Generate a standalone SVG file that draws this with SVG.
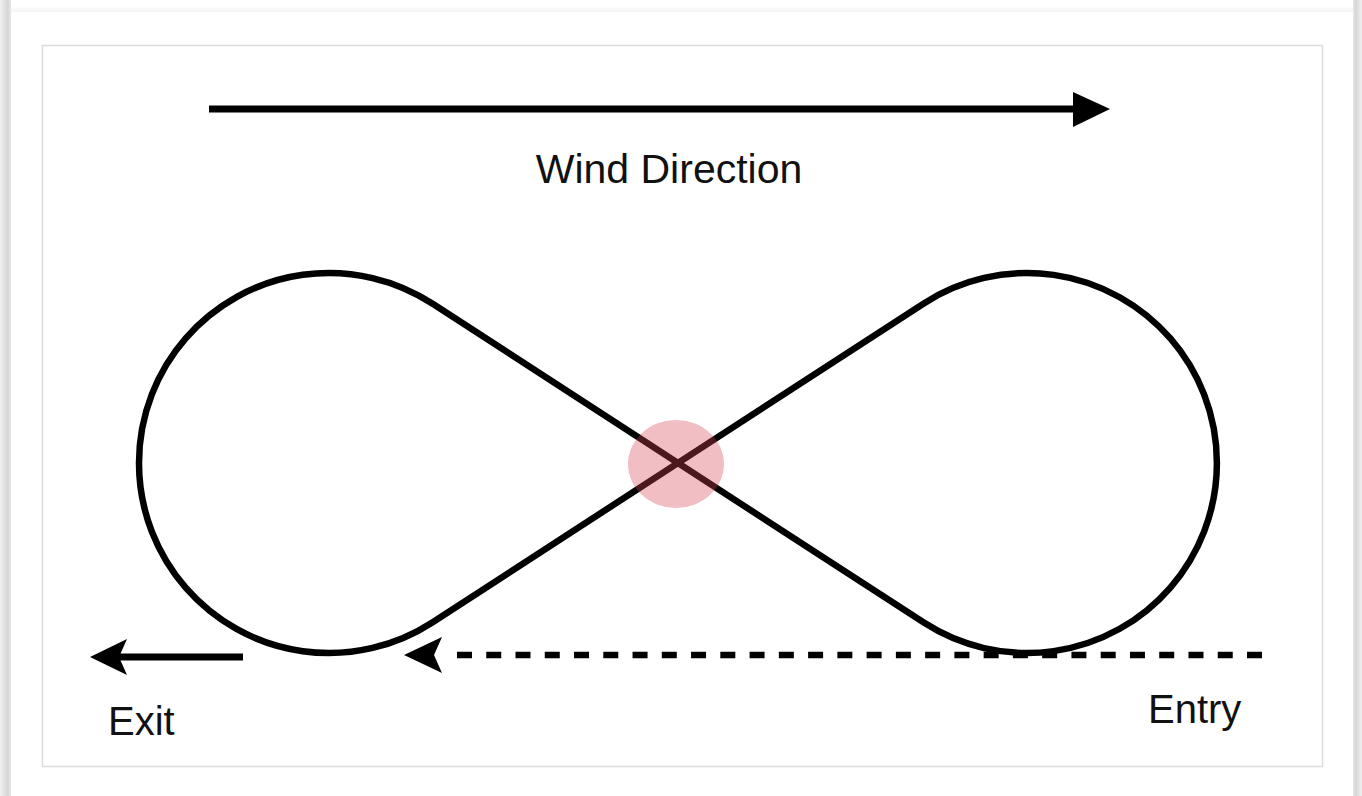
<svg xmlns="http://www.w3.org/2000/svg" width="1362" height="796" viewBox="0 0 1362 796">
  <defs>
    <linearGradient id="shL" x1="0" y1="0" x2="1" y2="0">
      <stop offset="0" stop-color="#f2f2f2"/>
      <stop offset="0.7" stop-color="#d6d6d6"/>
      <stop offset="1" stop-color="#e8e8e8"/>
    </linearGradient>
    <linearGradient id="shR" x1="0" y1="0" x2="1" y2="0">
      <stop offset="0" stop-color="#e8e8e8"/>
      <stop offset="0.3" stop-color="#d6d6d6"/>
      <stop offset="1" stop-color="#f2f2f2"/>
    </linearGradient>
    <linearGradient id="shT" x1="0" y1="0" x2="0" y2="1">
      <stop offset="0" stop-color="#ffffff"/>
      <stop offset="1" stop-color="#f4f4f4"/>
    </linearGradient>
    <style>
      .lbl { font-family: "Liberation Sans", Arial, sans-serif; font-size: 40px; fill: #111; }
      .line { fill: none; stroke: #000; stroke-width: 6.5; }
      .head { fill: #000; stroke: none; }
    </style>
  </defs>

  <rect x="0" y="0" width="1362" height="796" fill="#ffffff"/>
  <!-- card shadow -->
  <rect x="0" y="0" width="11" height="796" fill="url(#shL)"/>
  <rect x="1353" y="0" width="9" height="796" fill="url(#shR)"/>
  <rect x="11" y="6" width="1342" height="6" fill="url(#shT)"/>
  <rect x="11" y="12" width="1342" height="784" fill="#ffffff"/>
  <!-- inner frame -->
  <rect x="42.5" y="45.5" width="1280" height="721" fill="#ffffff" stroke="#dcdcdc" stroke-width="1.5"/>

  <g id="connectors">
    <!-- wind direction arrow -->
    <g id="wind-arrow">
      <line x1="209" y1="109" x2="1076" y2="109" stroke="#000" stroke-width="7"/>
      <polygon class="head" points="1073,92 1110,109 1073,127"/>
    </g>
    <!-- figure-eight path -->
    <path id="figure-eight" class="line" stroke-linejoin="round"
      d="M432.7,303.8 L923.8,622.6 A190,190 0 1 0 923.8,303.4 L432.7,622.2 A190,190 0 1 1 432.7,303.8 Z"/>
    <!-- entry dashed arrow -->
    <g id="entry-arrow">
      <line x1="1262" y1="655" x2="457" y2="655" stroke="#000" stroke-width="6.5" stroke-dasharray="15 14.26"/>
      <polygon class="head" points="404,655 442,637 434,655 442,673"/>
    </g>
    <!-- exit arrow -->
    <g id="exit-arrow">
      <line x1="118" y1="657" x2="243" y2="657" stroke="#000" stroke-width="7"/>
      <polygon class="head" points="90,657 127,639 119,657 127,675"/>
    </g>
  </g>

  <g id="crossing">
    <ellipse cx="676" cy="464" rx="48" ry="44" fill="rgb(215,70,85)" fill-opacity="0.35"/>
  </g>

  <g id="label-wind">
    <text class="lbl" x="669" y="183" text-anchor="middle" style="font-size:41px">Wind Direction</text>
  </g>
  <g id="label-exit">
    <text class="lbl" x="108" y="735">Exit</text>
  </g>
  <g id="label-entry">
    <text class="lbl" x="1148" y="723">Entry</text>
  </g>
</svg>
